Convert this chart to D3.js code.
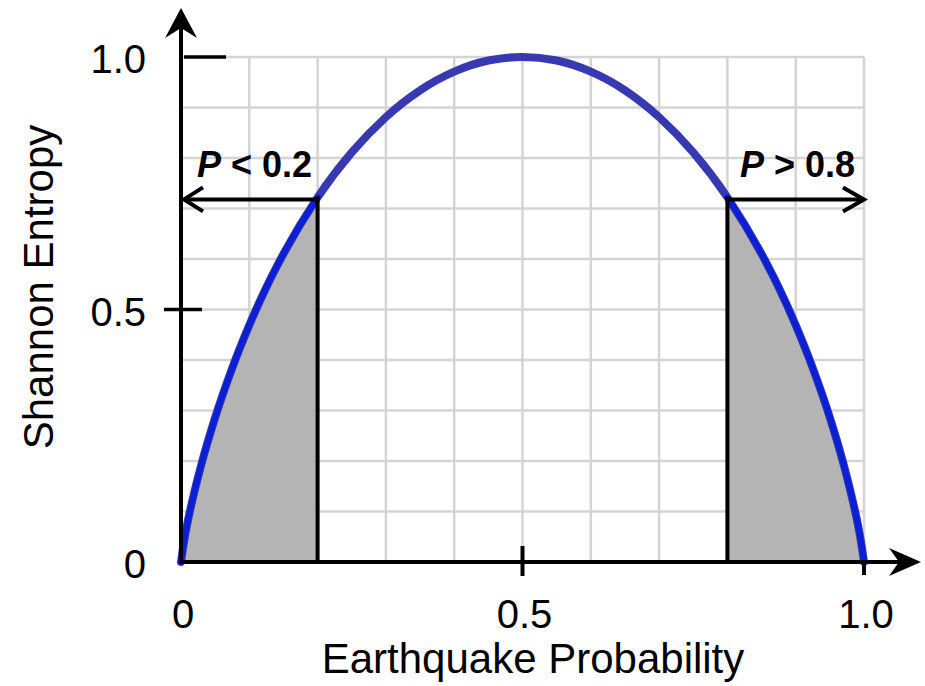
<!DOCTYPE html>
<html>
<head>
<meta charset="utf-8">
<script src="https://cdn.jsdelivr.net/npm/d3@7"></script>
<style>
  html, body { margin: 0; padding: 0; background: #fff; }
  svg { display: block; font-family: "Liberation Sans", Arial, sans-serif; }
</style>
</head>
<body>
<svg id="chart" width="925" height="686"></svg>
<script>
// ---- data ----
const probability = [0, 0.005, 0.01, 0.02, 0.03, 0.05, 0.075, 0.1, 0.125, 0.15, 0.2, 0.25, 0.3, 0.35, 0.4, 0.45, 0.5,
                     0.55, 0.6, 0.65, 0.7, 0.75, 0.8, 0.85, 0.875, 0.9, 0.925, 0.95, 0.97, 0.98, 0.99, 0.995, 1];
const entropy = [0, 0.045, 0.081, 0.141, 0.194, 0.286, 0.384, 0.469, 0.544, 0.610, 0.722, 0.811, 0.881, 0.934, 0.971, 0.993, 1.0,
                 0.993, 0.971, 0.934, 0.881, 0.811, 0.722, 0.610, 0.544, 0.469, 0.384, 0.286, 0.194, 0.141, 0.081, 0.045, 0];
const xTicks = [0, 0.5, 1.0];
const xTickLabels = ["0", "0.5", "1.0"];
const yTicks = [0, 0.5, 1.0];
const yTickLabels = ["0", "0.5", "1.0"];
const gridX = [0.1, 0.2, 0.3, 0.4, 0.5, 0.6, 0.7, 0.8, 0.9, 1.0];
const gridY = [0.1, 0.2, 0.3, 0.4, 0.5, 0.6, 0.7, 0.8, 0.9, 1.0];
const lowCut = 0.2, highCut = 0.8;
const lowLabel = "< 0.2", highLabel = "> 0.8";
const xTitle = "Earthquake Probability";
const yTitle = "Shannon Entropy";

const pts = probability.map((p, i) => ({p, h: entropy[i]}));
const hAt = p => pts.find(d => d.p === p).h;

// ---- scales ----
const x = d3.scaleLinear().domain([0, 1]).range([181, 864]);
const y = d3.scaleLinear().domain([0, 1]).range([562, 57]);

const svg = d3.select("#chart");

// grid
const grid = svg.append("g").attr("stroke", "#d4d4d4").attr("stroke-width", 2.5);
grid.selectAll("line.gx").data(gridX).join("line")
  .attr("x1", d => x(d)).attr("x2", d => x(d)).attr("y1", y(0)).attr("y2", y(1));
grid.selectAll("line.gy").data(gridY).join("line")
  .attr("x1", x(0)).attr("x2", x(1)).attr("y1", d => y(d)).attr("y2", d => y(d));

// shaded areas
const area = d3.area().x(d => x(d.p)).y0(y(0)).y1(d => y(d.h)).curve(d3.curveMonotoneX);
const lowPts = pts.filter(d => d.p <= lowCut);
const highPts = pts.filter(d => d.p >= highCut);
svg.append("path").datum(lowPts).attr("d", area).attr("fill", "#b4b4b4");
svg.append("path").datum(highPts).attr("d", area).attr("fill", "#b4b4b4");

// main curve
const line = d3.line().x(d => x(d.p)).y(d => y(d.h)).curve(d3.curveMonotoneX);
svg.append("path").datum(pts).attr("d", line)
  .attr("fill", "none").attr("stroke", "#3838b0").attr("stroke-width", 8).attr("stroke-linecap", "round");
// blue segments over the shaded parts
svg.append("path").datum(lowPts).attr("d", line)
  .attr("fill", "none").attr("stroke", "#0b1fd4").attr("stroke-width", 6).attr("stroke-linecap", "round");
svg.append("path").datum(highPts).attr("d", line)
  .attr("fill", "none").attr("stroke", "#0b1fd4").attr("stroke-width", 6).attr("stroke-linecap", "round");

// vertical cut lines
svg.selectAll("line.cut").data([lowCut, highCut]).join("line")
  .attr("x1", d => x(d)).attr("x2", d => x(d))
  .attr("y1", d => y(hAt(d)) - 1).attr("y2", y(0))
  .attr("stroke", "#000").attr("stroke-width", 4);

// horizontal arrows
const arrowY = y(hAt(lowCut)) + 2;
const black = {stroke: "#000", "stroke-width": 4, fill: "none"};
function applyAttrs(sel, o) { for (const k in o) sel.attr(k, o[k]); return sel; }
applyAttrs(svg.append("line").attr("x1", x(lowCut)).attr("x2", x(0) + 3).attr("y1", arrowY).attr("y2", arrowY), black);
applyAttrs(svg.append("path").attr("d", `M${x(0) + 22},${arrowY - 12} L${x(0) + 3},${arrowY} L${x(0) + 22},${arrowY + 12}`), black);
applyAttrs(svg.append("line").attr("x1", x(highCut)).attr("x2", x(1)).attr("y1", arrowY).attr("y2", arrowY), black);
applyAttrs(svg.append("path").attr("d", `M${x(1) - 21},${arrowY - 12} L${x(1)},${arrowY} L${x(1) - 21},${arrowY + 12}`), black);

// labels P < 0.2, P > 0.8
function pLabel(xPos, rest) {
  const t = svg.append("text").attr("x", xPos).attr("y", arrowY - 22)
    .attr("font-size", 36).attr("font-weight", "bold").attr("fill", "#000");
  t.append("tspan").attr("font-style", "italic").text("P");
  t.append("tspan").text(" " + rest);
}
pLabel(197, lowLabel);
pLabel(740, highLabel);

// axes lines
applyAttrs(svg.append("line").attr("x1", x(0)).attr("x2", x(0)).attr("y1", y(0) + 2).attr("y2", 14), black);
applyAttrs(svg.append("line").attr("x1", x(0) - 2).attr("x2", 912).attr("y1", y(0)).attr("y2", y(0)), black);
// arrowheads (stealth)
svg.append("path").attr("d", `M${x(0)},8 L${x(0) + 16},38 L${x(0)},28 L${x(0) - 16},38 Z`).attr("fill", "#000");
svg.append("path").attr("d", `M921,${y(0)} L889,${y(0) - 14} L899,${y(0)} L889,${y(0) + 14} Z`).attr("fill", "#000");

// ticks
svg.append("line").attr("x1", x(0) + 3).attr("x2", x(0) + 45).attr("y1", y(1)).attr("y2", y(1))
  .attr("stroke", "#000").attr("stroke-width", 3.5);
svg.append("line").attr("x1", x(0) - 17).attr("x2", x(0) + 21).attr("y1", y(0.5)).attr("y2", y(0.5))
  .attr("stroke", "#000").attr("stroke-width", 3.5);
svg.append("line").attr("x1", x(0.5)).attr("x2", x(0.5)).attr("y1", y(0) - 16).attr("y2", y(0) + 14)
  .attr("stroke", "#000").attr("stroke-width", 4);
svg.append("line").attr("x1", x(1)).attr("x2", x(1)).attr("y1", y(0)).attr("y2", y(0) + 13)
  .attr("stroke", "#000").attr("stroke-width", 4);

// tick labels
svg.selectAll("text.xt").data(xTicks).join("text").attr("class", "xt")
  .attr("x", d => x(d) + 2).attr("y", 628).attr("text-anchor", "middle")
  .attr("font-size", 40).attr("fill", "#000").text((d, i) => xTickLabels[i]);
svg.selectAll("text.yt").data(yTicks).join("text").attr("class", "yt")
  .attr("x", 146).attr("y", d => y(d) + 16).attr("text-anchor", "end")
  .attr("font-size", 40).attr("fill", "#000").text((d, i) => yTickLabels[i]);

// axis titles
svg.append("text").attr("x", 533).attr("y", 673).attr("text-anchor", "middle")
  .attr("font-size", 42).attr("fill", "#000").text(xTitle);
svg.append("text").attr("transform", "translate(53,287) rotate(-90)").attr("text-anchor", "middle")
  .attr("font-size", 42).attr("fill", "#000").text(yTitle);
</script>
</body>
</html>
